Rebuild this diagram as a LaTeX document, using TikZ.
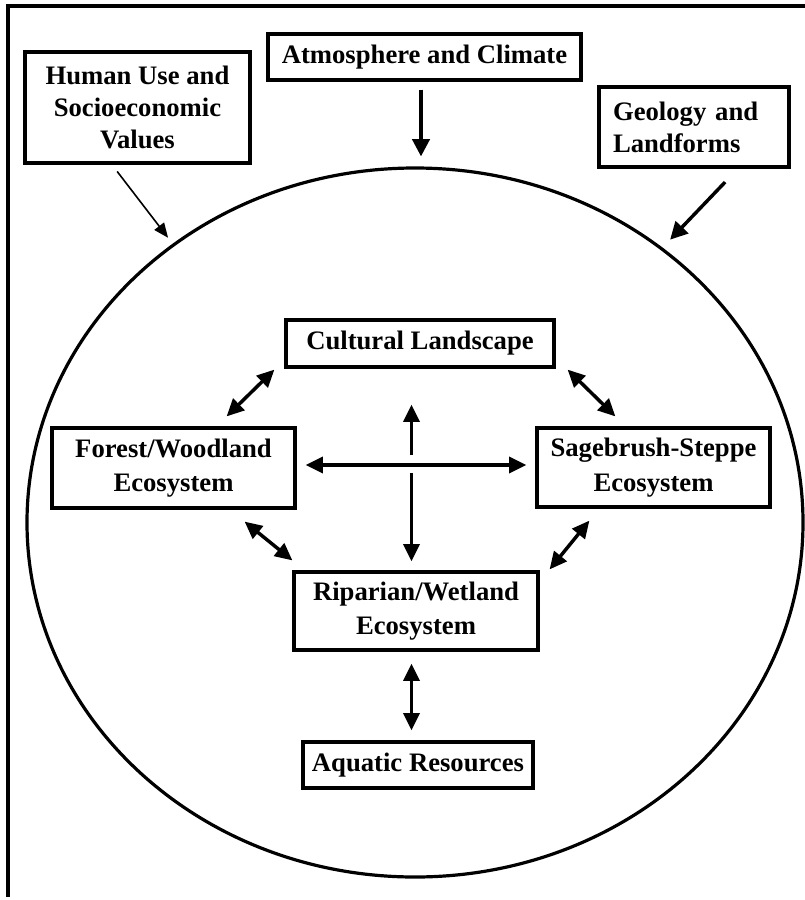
\documentclass[tikz,border=0pt]{standalone}
\usepackage{fontspec}
\setmainfont{Liberation Serif}
\usetikzlibrary{arrows.meta,shapes.geometric}

\begin{document}
\begin{tikzpicture}[x=0.75pt,y=-0.75pt,
  every node/.style={font=\bfseries\fontsize{20}{24}\selectfont},
  box/.style={draw,line width=2.4pt,inner sep=0pt,align=center},
  ecobox/.style={box,font=\bfseries\fontsize{20}{26}\selectfont},
  link/.style={line width=2.6pt,{Triangle[length=13pt,width=12pt]}-{Triangle[length=13pt,width=12pt]}},
  feed/.style={line width=2.6pt,-{Triangle[length=13pt,width=13pt]}},
  thinfeed/.style={line width=1.2pt,-{Triangle[length=11pt,width=9pt]}},
  oneway/.style={line width=2.6pt,-{Triangle[length=13pt,width=12pt]}}]

\useasboundingbox (0,0) rectangle (805,900);

% open frame: top and left edges only
\draw[line width=2.4pt] (8,897) -- (8,6) -- (805,6);

% the landscape as a whole
\node[draw,ellipse,line width=2.4pt,inner sep=0pt,minimum width=582pt,minimum height=531.75pt] (world) at (415,522.5) {};

% outside drivers
\node[box,minimum width=168.75pt,minimum height=83.25pt] (human) at (137.5,107.5) {Human Use and\\Socioeconomic\\Values};
\node[box,minimum width=234.75pt,minimum height=34.5pt] (atmos) at (424.5,57) {Atmosphere and Climate};
\node[box,align=left,text width=121.5pt,inner xsep=10.5pt,minimum height=60pt] (geo) at (694,127) {Geology and\\Landforms};

% components inside the landscape
\node[box,minimum width=201pt,minimum height=35.25pt] (cult) at (420,343.5) {Cultural Landscape};
\node[ecobox,minimum width=182.25pt,minimum height=60pt] (forest) at (173.5,468) {Forest/Woodland\\Ecosystem};
\node[ecobox,minimum width=174.75pt,minimum height=59.25pt] (sage) at (653.5,467.5) {Sagebrush-Steppe\\Ecosystem};
\node[ecobox,minimum width=183pt,minimum height=58.5pt] (ripar) at (416,611) {Riparian/Wetland\\Ecosystem};
\node[box,minimum width=172.5pt,minimum height=34.5pt] (aqua) at (418,765) {Aquatic Resources};

% drivers acting on the landscape
\draw[thinfeed,shorten <=6.5pt,shorten >=5.6pt] ([xshift=-19.2pt]human.south) -- (world.131.3);
\draw[feed] ([shift={(-3.5,8)}]atmos.south) -- ([shift={(-3.5,-10)}]atmos.south |- world.north);
\draw[feed,shorten <=14pt,shorten >=8.2pt] ([xshift=33pt]geo.south) -- (world.48.9);

% interactions among components
\draw[link] ([shift={(-10,1)}]cult.south west) -- ([shift={(-70,-10)}]forest.north east);
\draw[link] ([shift={(12,1)}]cult.south east) -- ([shift={(80,-10)}]sage.north west);
\draw[link] ([shift={(-52,12)}]forest.south east) -- ([shift={(0,-10)}]ripar.north west);
\draw[link] ([shift={(54,12)}]sage.south west) -- ([shift={(10,-1)}]ripar.north east);
\draw[link] ([shift={(9,-3)}]forest.east) -- ([shift={(-9,-2.5)}]sage.west);
\coordinate (cross) at (411.5,465);
\draw[oneway] ([yshift=7.5pt]cross) -- ([shift={(-8.5,36)}]cult.south);
\draw[oneway] ([yshift=-6pt]cross) -- ([shift={(-4.5,-9)}]ripar.north);
\draw[link] ([shift={(-4.5,12)}]ripar.south) -- ([shift={(-6.5,-10)}]aqua.north);

\end{tikzpicture}
\end{document}
